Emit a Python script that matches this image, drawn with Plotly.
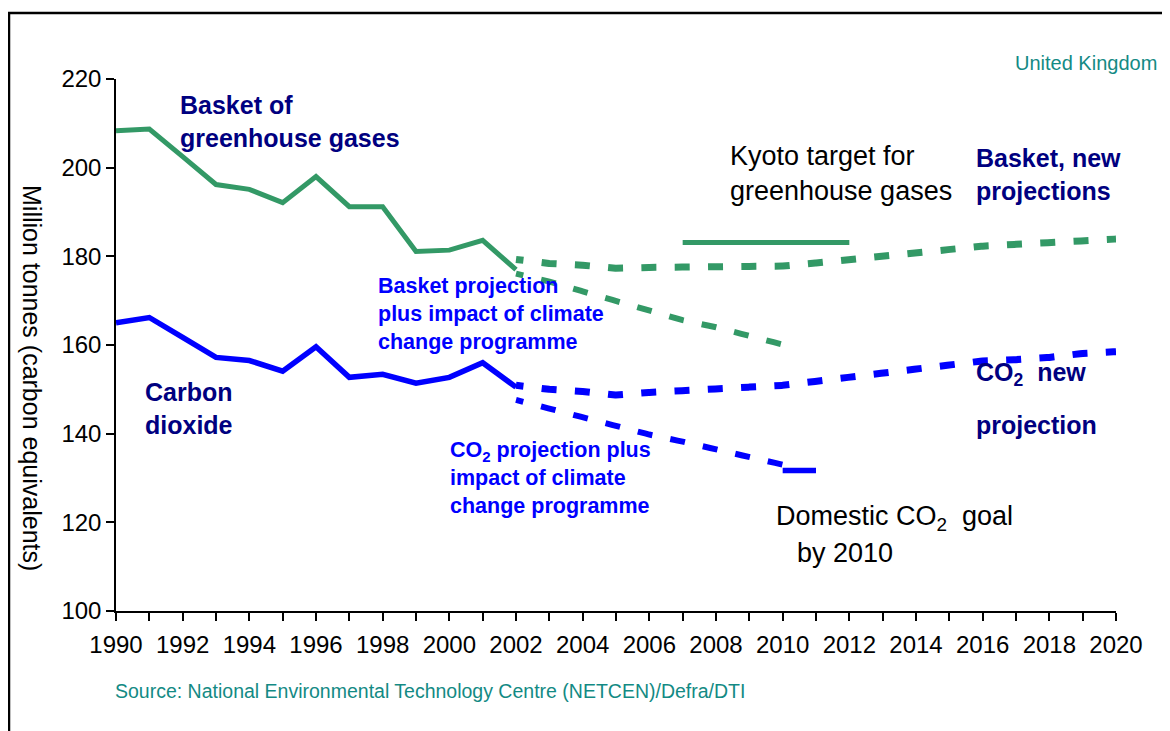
import plotly.graph_objects as go

# ---------------- data ----------------
years_hist = list(range(1990, 2003))
basket_hist = [208.3, 208.7, 202.5, 196.2, 195.1, 192.1, 198.0, 191.2, 191.2, 181.1, 181.4, 183.6, 177.0]
co2_hist = [165.0, 166.2, 161.7, 157.2, 156.5, 154.1, 159.6, 152.7, 153.4, 151.4, 152.7, 156.0, 150.5]

years_proj = list(range(2002, 2021))
basket_new = [179.3, 178.4, 178.0, 177.3, 177.5, 177.5, 177.5, 177.7, 177.8, 178.5, 179.3,
              180.1, 181.0, 181.8, 182.3, 182.7, 183.1, 183.5, 183.9]
co2_new = [150.9, 150.0, 149.5, 148.7, 149.3, 149.6, 150.0, 150.5, 150.9, 151.8, 152.8,
           153.7, 154.7, 155.5, 156.4, 156.7, 157.2, 158.1, 158.5]

years_ccp = list(range(2002, 2011))
basket_ccp = [176.1, 174.3, 172.1, 169.9, 167.8, 165.6, 164.0, 161.9, 160.1]
co2_ccp = [147.6, 145.7, 143.8, 141.6, 139.8, 138.2, 136.5, 134.9, 133.0]

kyoto_years = [2007, 2012]
kyoto_target = [183.1, 183.1]
goal_years = [2010, 2011]
goal_co2 = [131.7, 131.7]

x_tick_vals = list(range(1990, 2021, 2))
y_tick_vals = [100, 120, 140, 160, 180, 200, 220]

# ---------------- style ----------------
GREEN = "#339966"
BLUE = "#0000FF"
NAVY = "#000080"
TEAL = "#138A84"
FONT = "Liberation Sans, Arial, sans-serif"
DASH = "7.5px,18.33px,7.5px,0px"

OFF = 8                      # page body margin
FIG_W, FIG_H = 1170 - OFF, 731 - OFF
L, T, W, H = 116 - OFF, 79 - OFF, 1000, 532   # plot area in figure pixels


def px(x):                   # page pixel -> paper x
    return (x - OFF - L) / W


def py(y):                   # page pixel -> paper y
    return (T + H - (y - OFF)) / H


fig = go.Figure()

fig.add_trace(go.Scatter(x=years_hist, y=basket_hist, mode="lines",
                         line=dict(color=GREEN, width=5)))
fig.add_trace(go.Scatter(x=years_hist, y=co2_hist, mode="lines",
                         line=dict(color=BLUE, width=5.5)))
fig.add_trace(go.Scatter(x=years_proj, y=basket_new, mode="lines",
                         line=dict(color=GREEN, width=7, dash=DASH)))
fig.add_trace(go.Scatter(x=years_proj, y=co2_new, mode="lines",
                         line=dict(color=BLUE, width=7, dash=DASH)))
fig.add_trace(go.Scatter(x=years_ccp, y=basket_ccp, mode="lines",
                         line=dict(color=GREEN, width=6, dash=DASH)))
fig.add_trace(go.Scatter(x=years_ccp, y=co2_ccp, mode="lines",
                         line=dict(color=BLUE, width=6, dash=DASH)))
fig.add_trace(go.Scatter(x=kyoto_years, y=kyoto_target, mode="lines",
                         line=dict(color=GREEN, width=5)))
fig.add_trace(go.Scatter(x=goal_years, y=goal_co2, mode="lines",
                         line=dict(color=BLUE, width=5.5)))


def ann(text, x, y, size, color, xanchor="left", yanchor="middle", **kw):
    fig.add_annotation(text=text, x=x, y=y, xref="paper", yref="paper",
                       xanchor=xanchor, yanchor=yanchor, showarrow=False,
                       align="left", font=dict(size=size, color=color, family=FONT), **kw)


ann("<b>Basket of<br>greenhouse gases</b>", px(178), py(121), 25, NAVY)
ann("<b>Carbon<br>dioxide</b>", px(143), py(408), 25, NAVY)
ann("<b>Basket projection<br>plus impact of climate<br>change programme</b>", px(376), py(314), 21.5, BLUE)
ann("<b>CO<sub>2</sub> projection plus<br>impact of climate<br>change programme</b>", px(448), py(478), 21.5, BLUE)
ann("Kyoto target for<br>greenhouse gases", px(728), py(173), 27, "black")
ann("<b>Basket, new<br>projections</b>", px(974), py(174), 25, NAVY)
ann("<b>CO<sub>2</sub>  new</b>", px(974), py(374), 25, NAVY)
ann("<b>projection</b>", px(974), py(425), 25, NAVY)
ann("Domestic CO<sub>2</sub>  goal", px(774), py(518), 27, "black")
ann("by 2010", px(795), py(553), 27, "black")
ann("United Kingdom", px(1159), py(63), 20, TEAL, xanchor="right")
ann("Source: National Environmental Technology Centre (NETCEN)/Defra/DTI", px(113), py(691), 19.5, TEAL)
ann("Million tonnes (carbon equivalents)", px(32), py(378), 25, "black",
    xanchor="center", textangle=90)

# outer frame
fig.add_shape(type="rect", xref="paper", yref="paper",
              x0=px(9), y0=py(780), x1=px(1220), y1=py(13),
              line=dict(color="black", width=2.5), fillcolor="rgba(0,0,0,0)")

fig.update_layout(
    width=FIG_W, height=FIG_H,
    margin=dict(l=L, r=FIG_W - L - W, t=T, b=FIG_H - T - H),
    paper_bgcolor="white", plot_bgcolor="white",
    showlegend=False,
    font=dict(family=FONT, color="black"),
)
fig.update_xaxes(range=[1990, 2020], tickvals=x_tick_vals, ticks="outside", ticklen=8,
                 tickwidth=1.5, tickcolor="black", showline=True, linecolor="black",
                 linewidth=1.5, showgrid=False, zeroline=False,
                 tickfont=dict(size=24, color="black", family=FONT),
                 ticklabelstandoff=3,
                 minor=dict(dtick=1, tick0=1990, ticks="outside", ticklen=8,
                            tickwidth=1.5, tickcolor="black", showgrid=False))
fig.update_yaxes(range=[100, 220], tickvals=y_tick_vals, ticks="outside", ticklen=8,
                 tickwidth=1.5, tickcolor="black", showline=True, linecolor="black",
                 linewidth=1.5, showgrid=False, zeroline=False,
                 tickfont=dict(size=24, color="black", family=FONT))

fig.write_html("out.html")
